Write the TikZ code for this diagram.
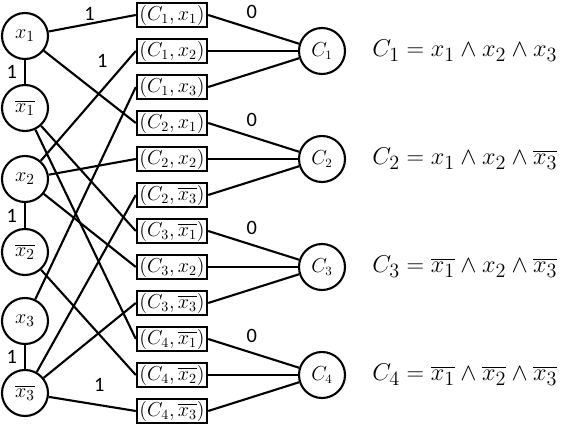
\documentclass[tikz,border=0pt]{standalone}
\usepackage{amsmath}
\usepackage{fontspec}
\setmainfont{Carlito}
\usepackage{tikz}
\usetikzlibrary{positioning}

\begin{document}
\begin{tikzpicture}[
    lit/.style={circle, draw, line width=1.5pt, minimum size=1.15cm, inner sep=0pt, font=\fontsize{15}{17}\selectfont},
    pair/.style={rectangle, draw, line width=1.7pt, minimum width=1.75cm, minimum height=0.6cm, inner sep=0.5pt, font=\fontsize{14}{16}\selectfont},
    clause/.style={circle, draw, line width=1.5pt, minimum size=1.15cm, inner sep=0pt, font=\fontsize{13.5}{15}\selectfont},
    formula/.style={anchor=west, inner sep=0pt, font=\fontsize{19}{22}\selectfont},
    wlabel/.style={inner sep=0pt, font=\fontsize{14.5}{16}\selectfont},
    link/.style={line width=1.5pt}
]
\useasboundingbox (0,0) rectangle (14.3,10.6);

% Literals (left column)
\node[lit] (x1) at (0.625, 9.7) {$x_1$};
\node[lit] (nx1) at (0.625, 7.9) {$\overline{x_1}$};
\node[lit] (x2) at (0.625, 6.125) {$x_2$};
\node[lit] (nx2) at (0.625, 4.3) {$\overline{x_2}$};
\node[lit] (x3) at (0.625, 2.575) {$x_3$};
\node[lit] (nx3) at (0.625, 0.775) {$\overline{x_3}$};

% Clause/literal pairs (middle column)
\node[pair] (c1x1) at (4.3, 10.225) {$(C_1,x_1)$};
\node[pair] (c1x2) at (4.3, 9.325) {$(C_1,x_2)$};
\node[pair] (c1x3) at (4.3, 8.425) {$(C_1,x_3)$};
\node[pair] (c2x1) at (4.3, 7.525) {$(C_2,x_1)$};
\node[pair] (c2x2) at (4.3, 6.625) {$(C_2,x_2)$};
\node[pair] (c2nx3) at (4.3, 5.725) {$(C_2,\overline{x_3})$};
\node[pair] (c3nx1) at (4.3, 4.825) {$(C_3,\overline{x_1})$};
\node[pair] (c3x2) at (4.3, 3.925) {$(C_3,x_2)$};
\node[pair] (c3nx3) at (4.3, 3.025) {$(C_3,\overline{x_3})$};
\node[pair] (c4nx1) at (4.3, 2.125) {$(C_4,\overline{x_1})$};
\node[pair] (c4nx2) at (4.3, 1.225) {$(C_4,\overline{x_2})$};
\node[pair] (c4nx3) at (4.3, 0.325) {$(C_4,\overline{x_3})$};

% Clauses (right column)
\node[clause] (cl1) at (8.05, 9.325) {$C_1$};
\node[clause] (cl2) at (8.05, 6.625) {$C_2$};
\node[clause] (cl3) at (8.05, 3.925) {$C_3$};
\node[clause] (cl4) at (8.05, 1.225) {$C_4$};

% Formulas
\node[formula] (f1) at (9.3, 9.325) {$C_1 = x_1 \wedge x_2 \wedge x_3$};
\node[formula] (f2) at (9.3, 6.625) {$C_2 = x_1 \wedge x_2 \wedge \overline{x_3}$};
\node[formula] (f3) at (9.3, 3.925) {$C_3 = \overline{x_1} \wedge x_2 \wedge \overline{x_3}$};
\node[formula] (f4) at (9.3, 1.225) {$C_4 = \overline{x_1} \wedge \overline{x_2} \wedge \overline{x_3}$};

% Literal pairs
\draw[link] (x1) -- node[wlabel, left=5pt] {1} (nx1);
\draw[link] (x2) -- node[wlabel, left=5pt] {1} (nx2);
\draw[link] (x3) -- node[wlabel, left=5pt] {1} (nx3);

% Literals to pairs
\draw[link] (x1) -- node[wlabel, pos=0.47, above=1.5pt] {1} (c1x1.west);
\draw[link] (x1) -- node[wlabel, pos=0.4, above right=8pt and 11pt] {1} (c2x1.west);
\draw[link] (nx1) -- (c3nx1.west);
\draw[link] (nx1) -- (c4nx1.west);
\draw[link] (x2) -- (c1x2.west);
\draw[link] (x2) -- (c2x2.west);
\draw[link] (x2) -- (c3x2.west);
\draw[link] (nx2) -- (c4nx2.west);
\draw[link] (x3) -- (c1x3.west);
\draw[link] (nx3) -- (c2nx3.west);
\draw[link] (nx3) -- (c3nx3.west);
\draw[link] (nx3) -- node[wlabel, pos=0.58, above=9pt] {1} (c4nx3.west);

% Pairs to clauses
\draw[link] (c1x1.east) -- node[wlabel, pos=0.48, above=6.5pt] {0} (cl1);
\draw[link] (c1x2.east) -- (cl1);
\draw[link] (c1x3.east) -- (cl1);
\draw[link] (c2x1.east) -- node[wlabel, pos=0.48, above=6.5pt] {0} (cl2);
\draw[link] (c2x2.east) -- (cl2);
\draw[link] (c2nx3.east) -- (cl2);
\draw[link] (c3nx1.east) -- node[wlabel, pos=0.48, above=6.5pt] {0} (cl3);
\draw[link] (c3x2.east) -- (cl3);
\draw[link] (c3nx3.east) -- (cl3);
\draw[link] (c4nx1.east) -- node[wlabel, pos=0.48, above=6.5pt] {0} (cl4);
\draw[link] (c4nx2.east) -- (cl4);
\draw[link] (c4nx3.east) -- (cl4);
\end{tikzpicture}
\end{document}
